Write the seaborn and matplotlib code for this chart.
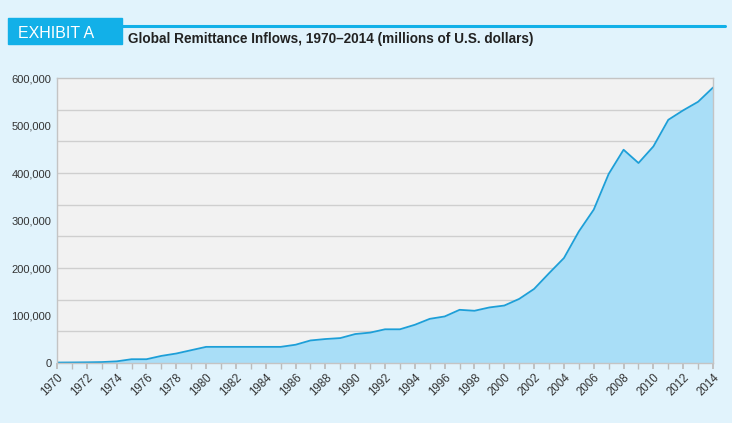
import matplotlib.pyplot as plt
import seaborn as sns
import numpy as np
import pandas as pd
from matplotlib.ticker import FuncFormatter, MultipleLocator

years = list(range(1970, 2015))
inflows = [
    1000, 1200, 1500, 2000, 3500, 8000, 8000, 15000, 20000, 27000,
    34000, 34000, 34000, 34000, 34000, 34000, 38500, 47500, 50500, 52500,
    61000, 64000, 71000, 71000, 80500, 93000, 98000, 112000, 110000, 117000,
    121000, 135000, 156000, 189000, 221000, 277000, 323000, 398000, 449000, 421000,
    456000, 512000, 532000, 550000, 580000,
]
tick_years = list(range(1970, 2015, 2))
y_ticks = [0, 100000, 200000, 300000, 400000, 500000, 600000]

df = pd.DataFrame({"year": years, "inflow": inflows})

bg = "#e1f3fc"
cyan = "#12b0e8"
line_color = "#1d9fd8"
fill_color = "#a9def7"

sns.set_theme(style="white")
plt.rcParams["font.family"] = ["Liberation Sans", "DejaVu Sans"]

fig = plt.figure(figsize=(7.32, 4.23), dpi=100)
fig.patch.set_facecolor(bg)
ax = fig.add_axes([0.0779, 0.1418, 0.8962, 0.6738])
ax.set_facecolor("#f2f2f2")

# gridlines every ninth of the range
for g in np.linspace(0, 600000, 10)[1:-1]:
    ax.axhline(g, color="#cfcfcf", linewidth=1.0, zorder=0)

ax.fill_between(df["year"], 0, df["inflow"], color=fill_color, zorder=1, linewidth=0)
sns.lineplot(data=df, x="year", y="inflow", color=line_color, linewidth=1.3, ax=ax, zorder=2)

ax.set_xlim(1970, 2014)
ax.set_ylim(0, 600000)
ax.set_xticks(tick_years)
ax.xaxis.set_minor_locator(MultipleLocator(1))
ax.set_yticks(y_ticks)
ax.yaxis.set_major_formatter(FuncFormatter(lambda v, p: f"{int(v):,}"))
ax.set_xlabel("")
ax.set_ylabel("")
ax.tick_params(axis="x", which="both", direction="out", length=4, color="#bbbbbb",
               bottom=True, labelsize=8.3, labelcolor="#333333", pad=2)
ax.tick_params(axis="y", length=0, labelsize=8, labelcolor="#333333", pad=4)
for lbl in ax.get_xticklabels():
    lbl.set_rotation(45)
    lbl.set_ha("right")
    lbl.set_rotation_mode("anchor")
for side in ["top", "right", "left", "bottom"]:
    ax.spines[side].set_visible(True)
    ax.spines[side].set_color("#c4c4c4")
    ax.spines[side].set_linewidth(1.0)

# header: exhibit box, rule and title
fig.add_artist(plt.Line2D([122 / 732, 725 / 732], [1 - 26 / 423, 1 - 26 / 423],
                          transform=fig.transFigure, color=cyan, linewidth=2.2))
fig.patches.append(plt.Rectangle((8 / 732, 1 - 44 / 423), 114 / 732, 26 / 423,
                                 transform=fig.transFigure, color=cyan, zorder=3))
fig.text(18 / 732, 1 - 33 / 423, "EXHIBIT A", color="white", fontsize=11.5,
         va="center", ha="left")
fig.text(128 / 732, 1 - 38.5 / 423, "Global Remittance Inflows, 1970\u20132014 (millions of U.S. dollars)",
         color="#222222", fontsize=9.8, fontweight="bold", va="center", ha="left")

fig.savefig("out.png", dpi=100, facecolor=bg)
